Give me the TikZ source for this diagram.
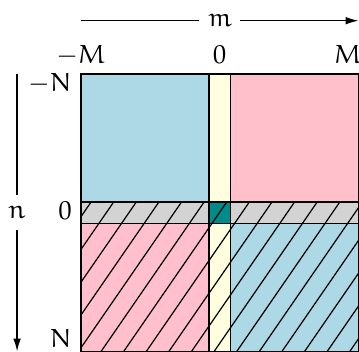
\documentclass[tikz,border=0pt]{standalone}
\usepackage{mathpazo}
\usetikzlibrary{arrows.meta}
\newcommand{\eul}[1]{{\usefont{U}{eur}{m}{n}#1}}
\definecolor{cblue}{RGB}{173,216,230}
\definecolor{cpink}{RGB}{255,192,203}
\definecolor{cyell}{RGB}{255,255,224}
\definecolor{cgray}{RGB}{211,211,211}
\definecolor{cteal}{RGB}{0,139,139}
\tikzset{
  every node/.append style={font=\fontsize{10.8}{13}\selectfont},
  region/.style={draw=black, line width=0.5pt},
  axislabel/.style={inner sep=3.3pt},
  ticklabel/.style={inner sep=0pt},
  hatchline/.style={black, line width=0.5pt},
  axisarrow/.style={line width=0.5pt, -{Latex[length=5.3pt,width=3.2pt]}},
  axisline/.style={line width=0.5pt}
}
\begin{document}
\begin{tikzpicture}[x=0.31cm,y=-0.31cm]
\useasboundingbox (-3.8,-3.47) rectangle (13.03,13.03);
% regions
\fill[cblue] (0,0) rectangle (6,6);
\fill[cpink] (7,0) rectangle (13,6);
\fill[cpink] (0,7) rectangle (6,13);
\fill[cblue] (7,7) rectangle (13,13);
\fill[cyell] (6,0) rectangle (7,13);
\fill[cgray] (0,6) rectangle (13,7);
\fill[cteal] (6,6) rectangle (7,7);
% hatching of the lower half-plane
\begin{scope}
\clip (0,6) rectangle (13,13);
\foreach \k in {-1,...,18}{
  \draw[hatchline] ({0.47+1.06*\k+0.5/1.45},5.5) -- ({0.47+1.06*\k-7.5/1.45},13.5);
}
\end{scope}
% outlines
\draw[region] (0,0) rectangle (6,6);
\draw[region] (7,0) rectangle (13,6);
\draw[region] (0,7) rectangle (6,13);
\draw[region] (7,7) rectangle (13,13);
\draw[region] (6,0) rectangle (7,13);
\draw[region] (0,6) rectangle (13,7);
\draw[region] (6,6) rectangle (7,7);
% column labels
\node[ticklabel, anchor=base] (cM1) at (0.5,-0.5) {\llap{$-$}\eul{M}};
\node[ticklabel, anchor=base] (c0) at (6.5,-0.5) {$0$};
\node[ticklabel, anchor=base] (cM2) at (12.5,-0.5) {\eul{M}};
% row labels
\node[ticklabel, anchor=base east] (rN1) at (-0.42,0.83) {$-$\eul{N}};
\node[ticklabel, anchor=base east] (r0) at (-0.42,6.83) {$0$};
\node[ticklabel, anchor=base east] (rN2) at (-0.42,12.83) {\eul{N}};
% m axis
\coordinate (mleft) at (0,-2.5);
\coordinate (mright) at (13,-2.5);
\node[axislabel] (m) at (6.5,-2.5) {\eul{m}};
\draw[axisline] (mleft) -- (m);
\draw[axisarrow] (m) -- (mright);
% n axis
\coordinate (ntop) at (-3,0);
\coordinate (nbot) at (-3,13);
\node[axislabel, inner ysep=4.5pt] (n) at (-3,6.5) {\eul{n}};
\draw[axisline] (ntop) -- (n);
\draw[axisarrow] (n) -- (nbot);
\end{tikzpicture}
\end{document}
